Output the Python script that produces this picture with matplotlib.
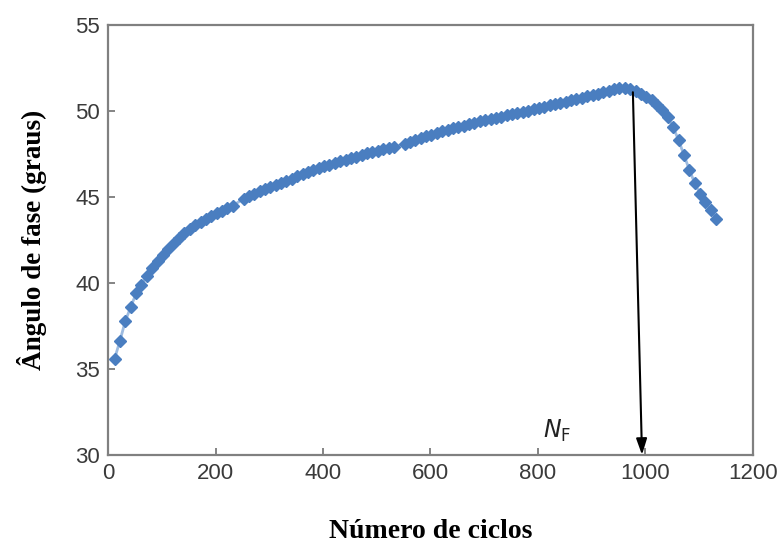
import matplotlib
matplotlib.use('Agg')
from matplotlib import pyplot as plt

# ciclos (eixo x) e ângulo de fase (graus)
ciclos = [12, 22, 32, 42, 52, 62, 72, 82, 92, 102,
          112, 122, 132, 142, 152, 162, 172, 182, 192, 202,
          212, 222, 232, 252, 262, 272, 282, 292, 302, 312,
          322, 332, 342, 352, 362, 372, 382, 392, 402, 412,
          422, 432, 442, 452, 462, 472, 482, 492, 502, 512,
          522, 532, 552, 562, 572, 582, 592, 602, 612, 622,
          632, 642, 652, 662, 672, 682, 692, 702, 712, 722,
          732, 742, 752, 762, 772, 782, 792, 802, 812, 822,
          832, 842, 852, 862, 872, 882, 892, 902, 912, 922,
          932, 942, 952, 962, 972, 982, 992, 1002, 1012, 1022,
          1032, 1042, 1052, 1062, 1072, 1082, 1092, 1102, 1112, 1122,
          1132]
angulo = [35.6, 36.65, 37.8, 38.6, 39.4, 39.9, 40.4, 40.85, 41.3, 41.65,
          42.0, 42.3, 42.6, 42.9, 43.15, 43.35, 43.55, 43.72, 43.88, 44.05,
          44.2, 44.35, 44.5, 44.9, 45.05, 45.2, 45.35, 45.48, 45.6, 45.72,
          45.84, 45.96, 46.08, 46.2, 46.32, 46.44, 46.56, 46.67, 46.78, 46.88,
          46.98, 47.08, 47.18, 47.27, 47.36, 47.45, 47.54, 47.62, 47.7, 47.78,
          47.86, 47.94, 48.1, 48.2, 48.31, 48.42, 48.53, 48.64, 48.75, 48.84,
          48.92, 49.0, 49.08, 49.16, 49.24, 49.32, 49.4, 49.47, 49.54, 49.61,
          49.68, 49.75, 49.82, 49.88, 49.95, 50.03, 50.1, 50.18, 50.25, 50.33,
          50.4, 50.47, 50.55, 50.63, 50.7, 50.78, 50.86, 50.94, 51.01, 51.09,
          51.17, 51.26, 51.33, 51.36, 51.3, 51.18, 51.02, 50.85, 50.62, 50.35,
          50.04, 49.65, 49.05, 48.33, 47.45, 46.6, 45.82, 45.2, 44.7, 44.25,
          43.75]

xticks = [0, 200, 400, 600, 800, 1000, 1200]
yticks = [30, 35, 40, 45, 50, 55]

# seta N_F: do pico até o eixo
seta_inicio = (977, 51.1)
seta_fim = (994, 30)

fig = plt.figure(figsize=(7.84, 5.48), dpi=100)
ax = fig.add_axes([0.138, 0.170, 0.822, 0.784])

ax.plot(ciclos, angulo, color='#9dbbe0', linewidth=2, zorder=2)
ax.plot(ciclos, angulo, linestyle='none', marker='D', markersize=6.2,
        color='#4a7ec0', markeredgecolor='#4a7ec0', zorder=3)

ax.annotate('', xy=seta_fim, xytext=seta_inicio,
            arrowprops=dict(arrowstyle='-|>,head_length=0.6,head_width=0.2',
                            color='black', lw=1.5,
                            mutation_scale=16, shrinkA=0, shrinkB=0),
            zorder=4)
ax.text(835, 31.4, r'$N_\mathrm{F}$', fontsize=17, color='#222222',
        ha='center', va='center', family='Liberation Sans')

ax.set_xlim(0, 1200)
ax.set_ylim(30, 55)
ax.set_xticks(xticks)
ax.set_yticks(yticks)
ax.tick_params(direction='in', length=5, width=1.2, color='#707070',
               labelsize=16, labelcolor='#3a3a3a', pad=6)
for lab in ax.get_xticklabels() + ax.get_yticklabels():
    lab.set_family('Liberation Sans')
for sp in ax.spines.values():
    sp.set_color('#808080')
    sp.set_linewidth(1.6)

ax.set_xlabel('Número de ciclos', family='Liberation Serif', fontweight='bold',
              fontsize=20, labelpad=25)
ax.set_ylabel('Ângulo de fase (graus)', family='Liberation Serif',
              fontweight='bold', fontsize=19.5, labelpad=20)

fig.savefig('out.png')
